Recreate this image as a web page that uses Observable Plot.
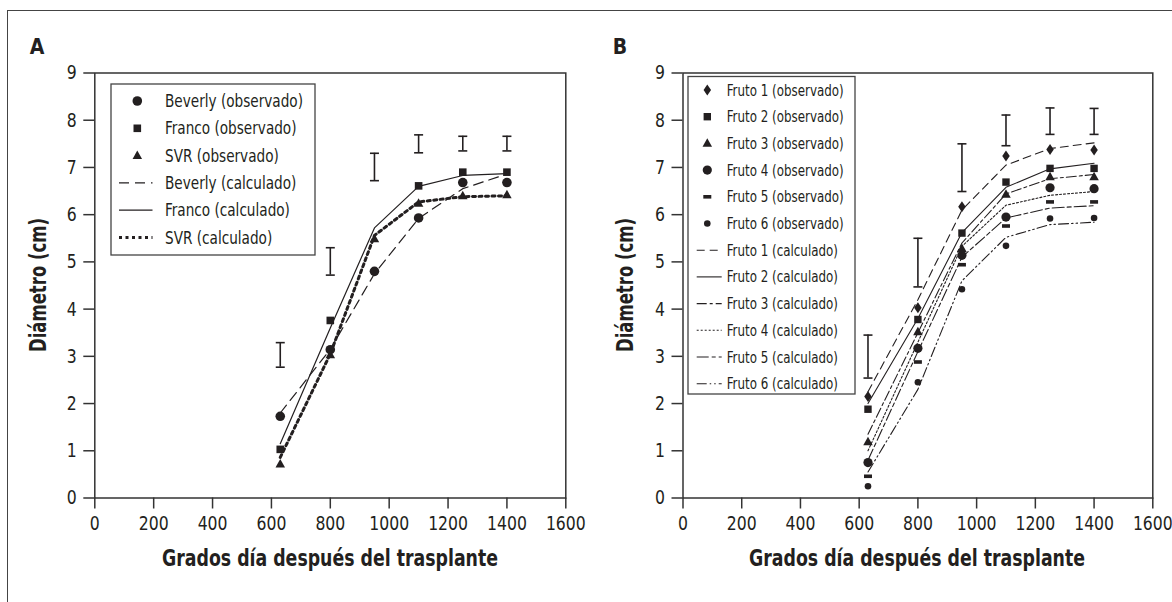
<!DOCTYPE html>
<html><head><meta charset="utf-8">
<script src="https://cdn.jsdelivr.net/npm/d3@7"></script>
<script src="https://cdn.jsdelivr.net/npm/@observablehq/plot@0.6"></script>
<style>
body{margin:0;background:#fff}
#fig{position:relative;width:1172px;height:602px;overflow:hidden;background:#fff;font-family:"Liberation Sans Narrow","Arial Narrow","DejaVu Sans Condensed",sans-serif;color:#231f20}
.panel{position:absolute;top:0}
#leg{position:absolute;left:0;top:0}
</style></head><body>
<div id="fig">
  <div style="position:absolute;left:7px;top:10px;right:-10px;bottom:-10px;border-left:1.5px solid #444;border-top:1.5px solid #444"></div>
  <div id="pa" class="panel" style="left:0"></div>
  <div id="pb" class="panel" style="left:586px"></div>
  <svg id="leg" width="1172" height="602"></svg>
</div>
<script>
// ---------- data ----------
const xTicks = [0, 200, 400, 600, 800, 1000, 1200, 1400, 1600];
const yTicks = [0, 1, 2, 3, 4, 5, 6, 7, 8, 9];
const xDays = [630, 800, 950, 1100, 1250, 1400];
const xTitle = "Grados día después del trasplante";
const yTitle = "Diámetro (cm)";
const panelLetters = ["A", "B"];

// Panel A
const beverlyObs  = [1.73, 3.14, 4.80, 5.93, 6.68, 6.68];
const francoObs   = [1.03, 3.76, null, 6.61, 6.90, 6.90];
const svrObs      = [0.72, 3.03, 5.49, 6.24, 6.40, 6.42];
const beverlyCalc = [1.80, 3.15, 4.75, 5.92, 6.55, 6.86];
const francoCalc  = [1.15, 3.60, 5.72, 6.60, 6.83, 6.87];
const svrCalc     = [0.86, 3.05, 5.56, 6.27, 6.38, 6.40];
const errLoA = [2.77, 4.72, 6.72, 7.31, 7.35, 7.35];
const errHiA = [3.29, 5.30, 7.30, 7.69, 7.66, 7.66];
const legendA = ["Beverly (observado)", "Franco (observado)", "SVR (observado)",
                 "Beverly (calculado)", "Franco (calculado)", "SVR (calculado)"];

// Panel B
const f1Obs = [2.15, 4.03, 6.17, 7.24, 7.38, 7.37];
const f2Obs = [1.88, 3.78, 5.61, 6.69, 6.98, 6.98];
const f3Obs = [1.19, 3.52, 5.28, 6.43, 6.80, 6.80];
const f4Obs = [0.75, 3.17, 5.14, 5.95, 6.57, 6.55];
const f5Obs = [0.46, 2.88, 4.94, 5.76, 6.27, 6.27];
const f6Obs = [0.25, 2.45, 4.42, 5.34, 5.92, 5.93];
const f1Calc = [2.25, 4.20, 6.10, 7.05, 7.40, 7.52];
const f2Calc = [2.00, 3.80, 5.62, 6.58, 6.97, 7.09];
const f3Calc = [1.35, 3.50, 5.40, 6.44, 6.76, 6.85];
const f4Calc = [1.00, 3.30, 5.33, 6.20, 6.41, 6.49];
const f5Calc = [0.80, 3.10, 5.10, 5.93, 6.14, 6.19];
const f6Calc = [0.55, 2.30, 4.60, 5.52, 5.79, 5.84];
const errLoB = [2.54, 4.47, 6.49, 7.46, 7.70, 7.70];
const errHiB = [3.45, 5.50, 7.50, 8.11, 8.26, 8.25];
const legendB = ["Fruto 1 (observado)", "Fruto 2 (observado)", "Fruto 3 (observado)",
                 "Fruto 4 (observado)", "Fruto 5 (observado)", "Fruto 6 (observado)",
                 "Fruto 1 (calculado)", "Fruto 2 (calculado)", "Fruto 3 (calculado)",
                 "Fruto 4 (calculado)", "Fruto 5 (calculado)", "Fruto 6 (calculado)"];

// ---------- styles ----------
const INK = "#231f20";
const FONT = '"Liberation Sans Narrow","Arial Narrow","DejaVu Sans Condensed",sans-serif';
const sym = {
  circle: r => ({draw(c){ c.moveTo(r,0); c.arc(0,0,r,0,2*Math.PI); }}),
  square: s => ({draw(c){ c.rect(-s/2,-s/2,s,s); }}),
  triangle: (w,h) => ({draw(c){ c.moveTo(0,-h*0.6); c.lineTo(w/2,h*0.4); c.lineTo(-w/2,h*0.4); c.closePath(); }}),
  diamond: (w,h) => ({draw(c){ c.moveTo(0,-h/2); c.lineTo(w/2,0); c.lineTo(0,h/2); c.lineTo(-w/2,0); c.closePath(); }}),
  dash: (w,h) => ({draw(c){ c.rect(-w/2,-h/2,w,h); }}),
  cap: w => ({draw(c){ c.moveTo(-w/2,0); c.lineTo(w/2,0); }})
};

const rows = ys => xDays.map((x, i) => ({x, y: ys[i]}));
const errRows = (lo, hi) => xDays.map((x, i) => ({x, lo: lo[i], hi: hi[i]}));

function errMarks(lo, hi, capW) {
  const d = errRows(lo, hi);
  return [
    Plot.ruleX(d, {x: "x", y1: "lo", y2: "hi", stroke: INK, strokeWidth: 1.6}),
    Plot.dot(d, {x: "x", y: "lo", symbol: sym.cap(capW), fill: "none", stroke: INK, strokeWidth: 1.6}),
    Plot.dot(d, {x: "x", y: "hi", symbol: sym.cap(capW), fill: "none", stroke: INK, strokeWidth: 1.6})
  ];
}
const lineMark = (ys, dash, sw) => Plot.line(rows(ys), {x: "x", y: "y", stroke: INK, strokeWidth: sw, strokeDasharray: dash});
const dotMark = (ys, s) => Plot.dot(rows(ys), {x: "x", y: "y", symbol: s, fill: INK, stroke: "none"});

function panel(ml, mr, marks) {
  const p = Plot.plot({
    width: 586, height: 602,
    marginLeft: ml, marginRight: mr, marginTop: 72.5, marginBottom: 104.5,
    x: {domain: [0, 1600], ticks: xTicks, label: null},
    y: {domain: [0, 9], ticks: yTicks, label: null},
    style: {fontFamily: FONT, fontSize: "20px", color: INK, background: "transparent", overflow: "visible"},
    marks: [
      Plot.axisX({ticks: xTicks, tickSize: 11, tickPadding: 7, stroke: "#333", strokeWidth: 1.5, label: null, tickFormat: d => String(d), fontSize: 20}),
      Plot.axisY({ticks: yTicks, tickSize: 11, tickPadding: 7, stroke: "#333", strokeWidth: 1.5, label: null, tickFormat: d => String(d), fontSize: 20}),
      Plot.frame({stroke: "#333", strokeWidth: 1.5}),
      ...marks
    ]
  });
  return p;
}
// condense tick labels horizontally (the original uses a condensed face)
function condenseTicks(svg) {
  svg.querySelectorAll("text").forEach(t => {
    const tr = t.getAttribute("transform") || "";
    t.setAttribute("transform", tr + " scale(0.87,1)");
  });
}

// Panel A symbols / line styles
const symA = [sym.circle(4.8), sym.square(7.6), sym.triangle(9.5, 8.5)];
const dashA = ["10,6", null, "3,3.5"];
const swA = [1.2, 1.2, 3];

const plotA = panel(94.3, 20.7, [
  ...errMarks(errLoA, errHiA, 9),
  lineMark(beverlyCalc, dashA[0], swA[0]),
  lineMark(francoCalc, dashA[1], swA[1]),
  lineMark(svrCalc, dashA[2], swA[2]),
  dotMark(beverlyObs, symA[0]),
  dotMark(francoObs, symA[1]),
  dotMark(svrObs, symA[2])
]);
document.getElementById("pa").append(plotA);
condenseTicks(plotA);

// Panel B symbols / line styles
const symB = [sym.diamond(7.5, 11), sym.square(7.4), sym.triangle(9.5, 8.5), sym.circle(4.6), sym.dash(8, 3.6), sym.circle(3.3)];
const dashB = ["8,5", null, "10,3,3,3", "2,2", "12,3,4,3", "10,3,1.5,3,1.5,3"];
const calcB = [f1Calc, f2Calc, f3Calc, f4Calc, f5Calc, f6Calc];
const obsB = [f1Obs, f2Obs, f3Obs, f4Obs, f5Obs, f6Obs];

const plotB = panel(96.5, 19.7, [
  ...errMarks(errLoB, errHiB, 9),
  ...calcB.map((c, i) => lineMark(c, dashB[i], 1.1)),
  ...obsB.map((o, i) => dotMark(o, symB[i]))
]);
document.getElementById("pb").append(plotB);
condenseTicks(plotB);

// ---------- overlay: legends, titles ----------
const leg = d3.select("#leg");
function fit(sel, target) {
  sel.attr("textLength", target).attr("lengthAdjust", "spacingAndGlyphs");
}
function drawLegend(box, labels, syms, dashes, widths, fs, firstWidth) {
  leg.append("rect").attr("x", box.x).attr("y", box.y).attr("width", box.w).attr("height", box.h)
    .attr("fill", "white").attr("stroke", "#444").attr("stroke-width", 1.3);
  let k = null;
  labels.forEach((lab, i) => {
    const y = box.row0 + i * box.step;
    if (i < syms.length) {
      leg.append("path").attr("d", d3.symbol(syms[i])()).attr("transform", `translate(${box.sx},${y})`).attr("fill", INK);
    } else {
      const j = i - syms.length;
      leg.append("line").attr("x1", box.l1).attr("x2", box.l2).attr("y1", y).attr("y2", y)
        .attr("stroke", INK).attr("stroke-width", widths[j]).attr("stroke-dasharray", dashes[j]);
    }
    const t = leg.append("text").attr("x", box.tx).attr("y", y).attr("dy", "0.36em")
      .attr("font-family", FONT).attr("font-size", fs).attr("fill", INK).text(lab);
    const w = t.node().getComputedTextLength();
    if (k === null) k = firstWidth / w;
    fit(t, w * k);
  });
}
drawLegend({x: 111, y: 84, w: 204, h: 171, row0: 101, step: 27.3, sx: 137.3, l1: 119, l2: 152.5, tx: 165},
  legendA, symA, dashA, swA, 17, 138);
drawLegend({x: 688, y: 76.5, w: 167, h: 317.5, row0: 90, step: 26.7, sx: 707.3, l1: 696.7, l2: 721.7, tx: 726.7},
  legendB, symB, dashB, [1.1, 1.1, 1.1, 1.1, 1.1, 1.1], 15.5, 117);

// titles
[{cx: 330, yx: 38, lx: 37}, {cx: 917, yx: 625, lx: 620}].forEach((p, i) => {
  const xt = leg.append("text").attr("x", p.cx - 168).attr("y", 558).attr("dy", "0.36em")
    .attr("font-family", FONT).attr("font-size", 23).attr("font-weight", "bold").attr("fill", INK).text(xTitle);
  fit(xt, 336);
  const yt = leg.append("text").attr("transform", `translate(${p.yx},285) rotate(-90)`)
    .attr("x", -67).attr("y", 0).attr("dy", "0.36em")
    .attr("font-family", FONT).attr("font-size", 23).attr("font-weight", "bold").attr("fill", INK).text(yTitle);
  fit(yt, 134);
  const lt = leg.append("text").attr("x", p.lx).attr("y", 46).attr("dy", "0.36em").attr("text-anchor", "middle")
    .attr("font-family", FONT).attr("font-size", 21).attr("font-weight", "bold").attr("fill", INK).text(panelLetters[i]);
});
</script>
</body></html>
